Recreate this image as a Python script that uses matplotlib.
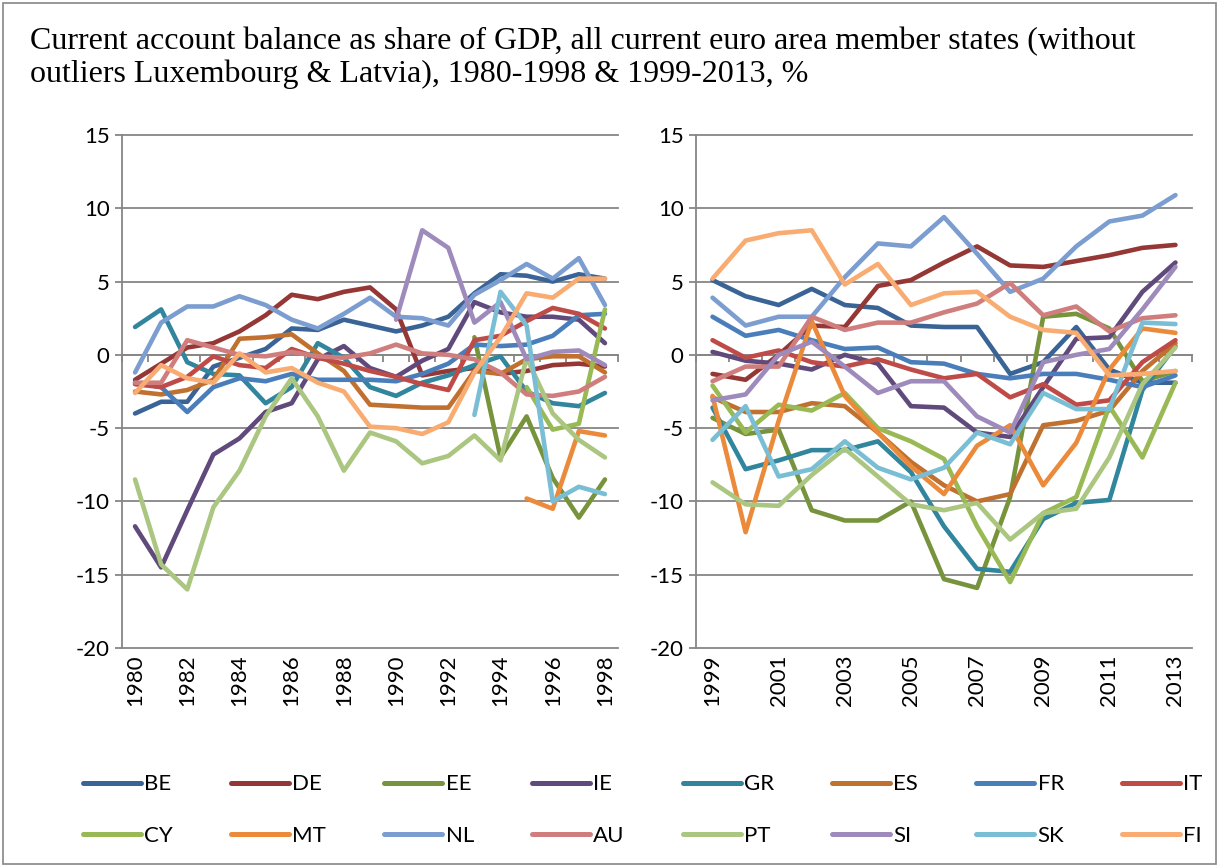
import numpy as np
import matplotlib
matplotlib.use("Agg")
import matplotlib.pyplot as plt
from matplotlib.lines import Line2D
from matplotlib.patches import Rectangle
import matplotlib.transforms as mtransforms

nan = np.nan

countries = ["BE", "DE", "EE", "IE", "GR", "ES", "FR", "IT",
             "CY", "MT", "NL", "AU", "PT", "SI", "SK", "FI"]

years_left = list(range(1980, 1999))
years_right = list(range(1999, 2014))

# 1980-1998
BE_L = [-4.0, -3.2, -3.2, -0.8, -0.2, 0.4, 1.8, 1.7, 2.4, 2.0, 1.6, 2.0, 2.6, 4.2, 5.5, 5.4, 5.0, 5.5, 5.2]
DE_L = [-1.7, -0.6, 0.5, 0.8, 1.6, 2.7, 4.1, 3.8, 4.3, 4.6, 3.1, -1.4, -1.1, -0.9, -1.3, -1.1, -0.7, -0.6, -0.8]
EE_L = [nan] * 13 + [1.2, -7.0, -4.2, -8.4, -11.1, -8.5]
IE_L = [-11.7, -14.5, -10.6, -6.8, -5.7, -3.9, -3.3, -0.3, 0.6, -0.9, -1.5, -0.4, 0.4, 3.6, 2.9, 2.6, 2.6, 2.4, 0.8]
GR_L = [1.9, 3.1, -0.5, -1.3, -1.4, -3.3, -2.2, 0.8, -0.2, -2.2, -2.8, -1.9, -1.4, -0.7, -0.1, -2.5, -3.3, -3.5, -2.6]
ES_L = [-2.5, -2.7, -2.4, -1.7, 1.1, 1.2, 1.4, 0.1, -1.1, -3.4, -3.5, -3.6, -3.6, -1.1, -1.3, -0.3, -0.1, -0.1, -1.2]
FR_L = [-1.9, -2.2, -3.9, -2.2, -1.6, -1.8, -1.3, -1.7, -1.7, -1.7, -1.8, -1.3, -0.6, 0.7, 0.6, 0.7, 1.3, 2.7, 2.8]
IT_L = [-2.0, -2.2, -1.5, -0.1, -0.7, -0.9, 0.4, -0.2, -0.6, -1.1, -1.5, -2.0, -2.4, 1.0, 1.3, 2.3, 3.2, 2.8, 1.8]
CY_L = [nan] * 15 + [-2.2, -5.1, -4.7, 3.1]
MT_L = [nan] * 15 + [-9.8, -10.5, -5.2, -5.5]
NL_L = [-1.2, 2.2, 3.3, 3.3, 4.0, 3.4, 2.4, 1.8, 2.8, 3.9, 2.6, 2.5, 2.0, 4.1, 5.1, 6.2, 5.2, 6.6, 3.4]
AU_L = [-1.9, -1.9, 1.0, 0.5, 0.0, -0.1, 0.2, -0.1, -0.2, 0.1, 0.7, 0.1, 0.0, -0.3, -1.2, -2.7, -2.8, -2.5, -1.5]
PT_L = [-8.5, -14.3, -16.0, -10.4, -7.9, -4.2, -1.6, -4.2, -7.9, -5.3, -5.9, -7.4, -6.9, -5.5, -7.2, -0.2, -4.0, -5.8, -7.0]
SI_L = [nan] * 10 + [2.4, 8.5, 7.3, 2.2, 3.6, -0.3, 0.2, 0.3, -0.7]
SK_L = [nan] * 13 + [-4.1, 4.3, 2.0, -10.0, -9.0, -9.5]
FI_L = [-2.6, -0.7, -1.6, -1.9, 0.1, -1.2, -0.9, -1.9, -2.5, -4.9, -5.0, -5.4, -4.6, -1.2, 1.2, 4.2, 3.9, 5.2, 5.2]

# 1999-2013
BE_R = [5.1, 4.0, 3.4, 4.5, 3.4, 3.2, 2.0, 1.9, 1.9, -1.3, -0.5, 1.9, -1.0, -1.9, -1.9]
DE_R = [-1.3, -1.7, 0.0, 2.0, 1.9, 4.7, 5.1, 6.3, 7.4, 6.1, 6.0, 6.4, 6.8, 7.3, 7.5]
EE_R = [-4.3, -5.4, -5.1, -10.6, -11.3, -11.3, -10.0, -15.3, -15.9, -9.7, 2.6, 2.8, 1.8, -1.8, -1.1]
IE_R = [0.2, -0.4, -0.6, -1.0, 0.0, -0.6, -3.5, -3.6, -5.3, -5.6, -2.2, 1.1, 1.2, 4.3, 6.3]
GR_R = [-3.6, -7.8, -7.2, -6.5, -6.5, -5.9, -8.0, -11.7, -14.6, -14.8, -11.2, -10.1, -9.9, -2.4, 0.6]
ES_R = [-2.9, -3.9, -3.9, -3.3, -3.5, -5.3, -7.3, -8.9, -10.0, -9.5, -4.8, -4.5, -3.8, -1.1, 0.8]
FR_R = [2.6, 1.3, 1.7, 1.0, 0.4, 0.5, -0.5, -0.6, -1.3, -1.6, -1.3, -1.3, -1.7, -2.2, -1.4]
IT_R = [1.0, -0.2, 0.3, -0.5, -0.8, -0.3, -1.0, -1.6, -1.3, -2.9, -2.0, -3.4, -3.1, -0.5, 1.0]
CY_R = [-2.1, -5.3, -3.4, -3.8, -2.6, -5.0, -5.9, -7.1, -11.7, -15.5, -10.8, -9.7, -3.5, -7.0, -1.9]
MT_R = [-2.8, -12.1, -4.5, 2.3, -2.8, -5.3, -7.6, -9.5, -6.2, -4.8, -8.9, -6.0, -1.0, 1.8, 1.5]
NL_R = [3.9, 2.0, 2.6, 2.6, 5.3, 7.6, 7.4, 9.4, 6.9, 4.3, 5.2, 7.4, 9.1, 9.5, 10.9]
AU_R = [-1.8, -0.8, -0.8, 2.6, 1.7, 2.2, 2.2, 2.9, 3.5, 4.9, 2.7, 3.3, 1.6, 2.5, 2.7]
PT_R = [-8.7, -10.2, -10.3, -8.2, -6.4, -8.3, -10.2, -10.6, -10.1, -12.6, -10.8, -10.5, -7.0, -2.0, 0.5]
SI_R = [-3.1, -2.7, 0.0, 0.9, -0.8, -2.6, -1.8, -1.8, -4.2, -5.3, -0.5, 0.0, 0.4, 3.1, 6.0]
SK_R = [-5.8, -3.5, -8.3, -7.8, -5.9, -7.7, -8.5, -7.7, -5.3, -6.1, -2.6, -3.7, -3.7, 2.2, 2.1]
FI_R = [5.2, 7.8, 8.3, 8.5, 4.8, 6.2, 3.4, 4.2, 4.3, 2.6, 1.7, 1.5, -1.4, -1.3, -1.1]

left_series = [BE_L, DE_L, EE_L, IE_L, GR_L, ES_L, FR_L, IT_L,
               CY_L, MT_L, NL_L, AU_L, PT_L, SI_L, SK_L, FI_L]
right_series = [BE_R, DE_R, EE_R, IE_R, GR_R, ES_R, FR_R, IT_R,
                CY_R, MT_R, NL_R, AU_R, PT_R, SI_R, SK_R, FI_R]

colors = ["#3A6496", "#953735", "#77933C", "#604A7B", "#31859C", "#C0712F",
          "#4A7EBB", "#BE4B48", "#98B954", "#EB8A3A", "#7C9DCF", "#CF7E7D",
          "#ABC680", "#9E8BBB", "#79BED5", "#F9AC72"]

GRID = "#868686"
SANS = ["Lato", "DejaVu Sans"]
SERIF = ["Liberation Serif", "DejaVu Serif"]

W, H = 1219, 867
fig = plt.figure(figsize=(W / 100, H / 100), dpi=100)

def fx(px):
    return px / W

def fy(py):
    return 1 - py / H

y_top, y_bot = 135, 648
ax_l = fig.add_axes([fx(122), fy(y_bot), fx(618 - 122), fy(y_top) - fy(y_bot)])
ax_r = fig.add_axes([fx(696), fy(y_bot), fx(1192 - 696), fy(y_top) - fy(y_bot)])

def style(ax, years, series):
    n = len(years)
    x = np.arange(n)
    for vals, c in zip(series, colors):
        ax.plot(x, np.array(vals, dtype=float), color=c, lw=3.3,
                solid_joinstyle="round", solid_capstyle="round", zorder=3)
    ax.set_xlim(-0.5, n - 0.5)
    ax.set_ylim(-20, 15)
    yt = list(range(-20, 16, 5))
    ax.set_yticks(yt)
    ax.set_yticklabels([str(v) for v in yt], fontfamily=SANS, fontsize=16)
    for v in yt:
        ax.axhline(v, color=GRID, lw=1.3, zorder=1, clip_on=False)
    for s in ["top", "right"]:
        ax.spines[s].set_visible(False)
    ax.spines["left"].set_color(GRID)
    ax.spines["left"].set_linewidth(1.3)
    ax.spines["bottom"].set_position(("data", 0))
    ax.spines["bottom"].set_color(GRID)
    ax.spines["bottom"].set_linewidth(1.3)
    ax.spines["bottom"].set_zorder(1)
    ax.set_xticks(np.arange(-0.5, n, 1.0))
    ax.tick_params(axis="x", direction="out", length=5, width=1.3,
                   color=GRID, labelbottom=False)
    ax.tick_params(axis="y", direction="out", length=5, width=1.3,
                   color=GRID, pad=4, labelcolor="black")
    trans = mtransforms.blended_transform_factory(ax.transData, ax.transAxes)
    for i, yr in enumerate(years):
        if i % 2 == 0:
            ax.text(i, -0.012, str(yr), transform=trans, rotation=90,
                    ha="center", va="top", fontfamily=SANS, fontsize=16)

style(ax_l, years_left, left_series)
style(ax_r, years_right, right_series)

fig.text(fx(30), fy(27),
         "Current account balance as share of GDP, all current euro area member states (without\n"
         "outliers Luxembourg & Latvia), 1980-1998 & 1999-2013, %",
         ha="left", va="top", fontfamily=SERIF, fontsize=23, linespacing=1.13)

# legend: matplotlib fills columns first, so interleave to get row-wise order
handles = [Line2D([0], [0], color=c, lw=3.6, solid_capstyle="round") for c in colors]
order = []
for j in range(8):
    order += [j, j + 8]
fig.legend([handles[k] for k in order], [countries[k] for k in order],
           ncol=8, loc="center",
           bbox_to_anchor=(fx(643), fy(810)), frameon=False,
           prop={"family": SANS, "size": 16}, handlelength=2.6,
           handletextpad=0.15, columnspacing=2.62, labelspacing=1.4)

fig.patches.append(Rectangle((fx(3), fy(864)), fx(1213), fy(3) - fy(864),
                             transform=fig.transFigure, fill=False,
                             edgecolor=GRID, lw=1.2))

fig.savefig("out.png", dpi=100)
